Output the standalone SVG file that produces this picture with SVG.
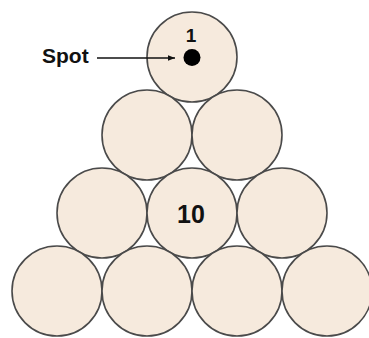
<svg xmlns="http://www.w3.org/2000/svg" width="369" height="338" viewBox="0 0 369 338">
<defs>
<style>
.ball{fill:#f6eadd;stroke:#4a4a4a;stroke-width:1.6}
.lbl{font-family:"Liberation Sans",Arial,sans-serif;font-weight:bold;fill:#111}
</style>
<marker id="ah" viewBox="0 0 10 10" refX="10" refY="5" markerWidth="7" markerHeight="7" markerUnits="userSpaceOnUse" orient="auto">
<path d="M0,1 L10,5 L0,9 Z" fill="#111"/>
</marker>
</defs>
<rect width="369" height="338" fill="#fff"/>
<g id="ball1"><circle class="ball" cx="192" cy="57" r="45"/><text class="lbl" x="191" y="42" font-size="19" text-anchor="middle">1</text><circle cx="192" cy="57.5" r="8.5" fill="#000"/></g>
<g id="ball2"><circle class="ball" cx="147" cy="135" r="45"/></g>
<g id="ball3"><circle class="ball" cx="237" cy="135" r="45"/></g>
<g id="ball4"><circle class="ball" cx="102" cy="213" r="45"/></g>
<g id="ball10"><circle class="ball" cx="192" cy="213" r="45"/><text class="lbl" x="191" y="223" font-size="25" text-anchor="middle">10</text></g>
<g id="ball6"><circle class="ball" cx="282" cy="213" r="45"/></g>
<g id="ball7"><circle class="ball" cx="57" cy="291" r="45"/></g>
<g id="ball8"><circle class="ball" cx="147" cy="291" r="45"/></g>
<g id="ball9"><circle class="ball" cx="237" cy="291" r="45"/></g>
<g id="ball11"><circle class="ball" cx="327" cy="291" r="45"/></g>
<g id="spot-label"><text class="lbl" x="42" y="63" font-size="21">Spot</text></g>
<g id="connectors"><line x1="97" y1="58" x2="175" y2="58" stroke="#111" stroke-width="1.5" marker-end="url(#ah)"/></g>
</svg>
